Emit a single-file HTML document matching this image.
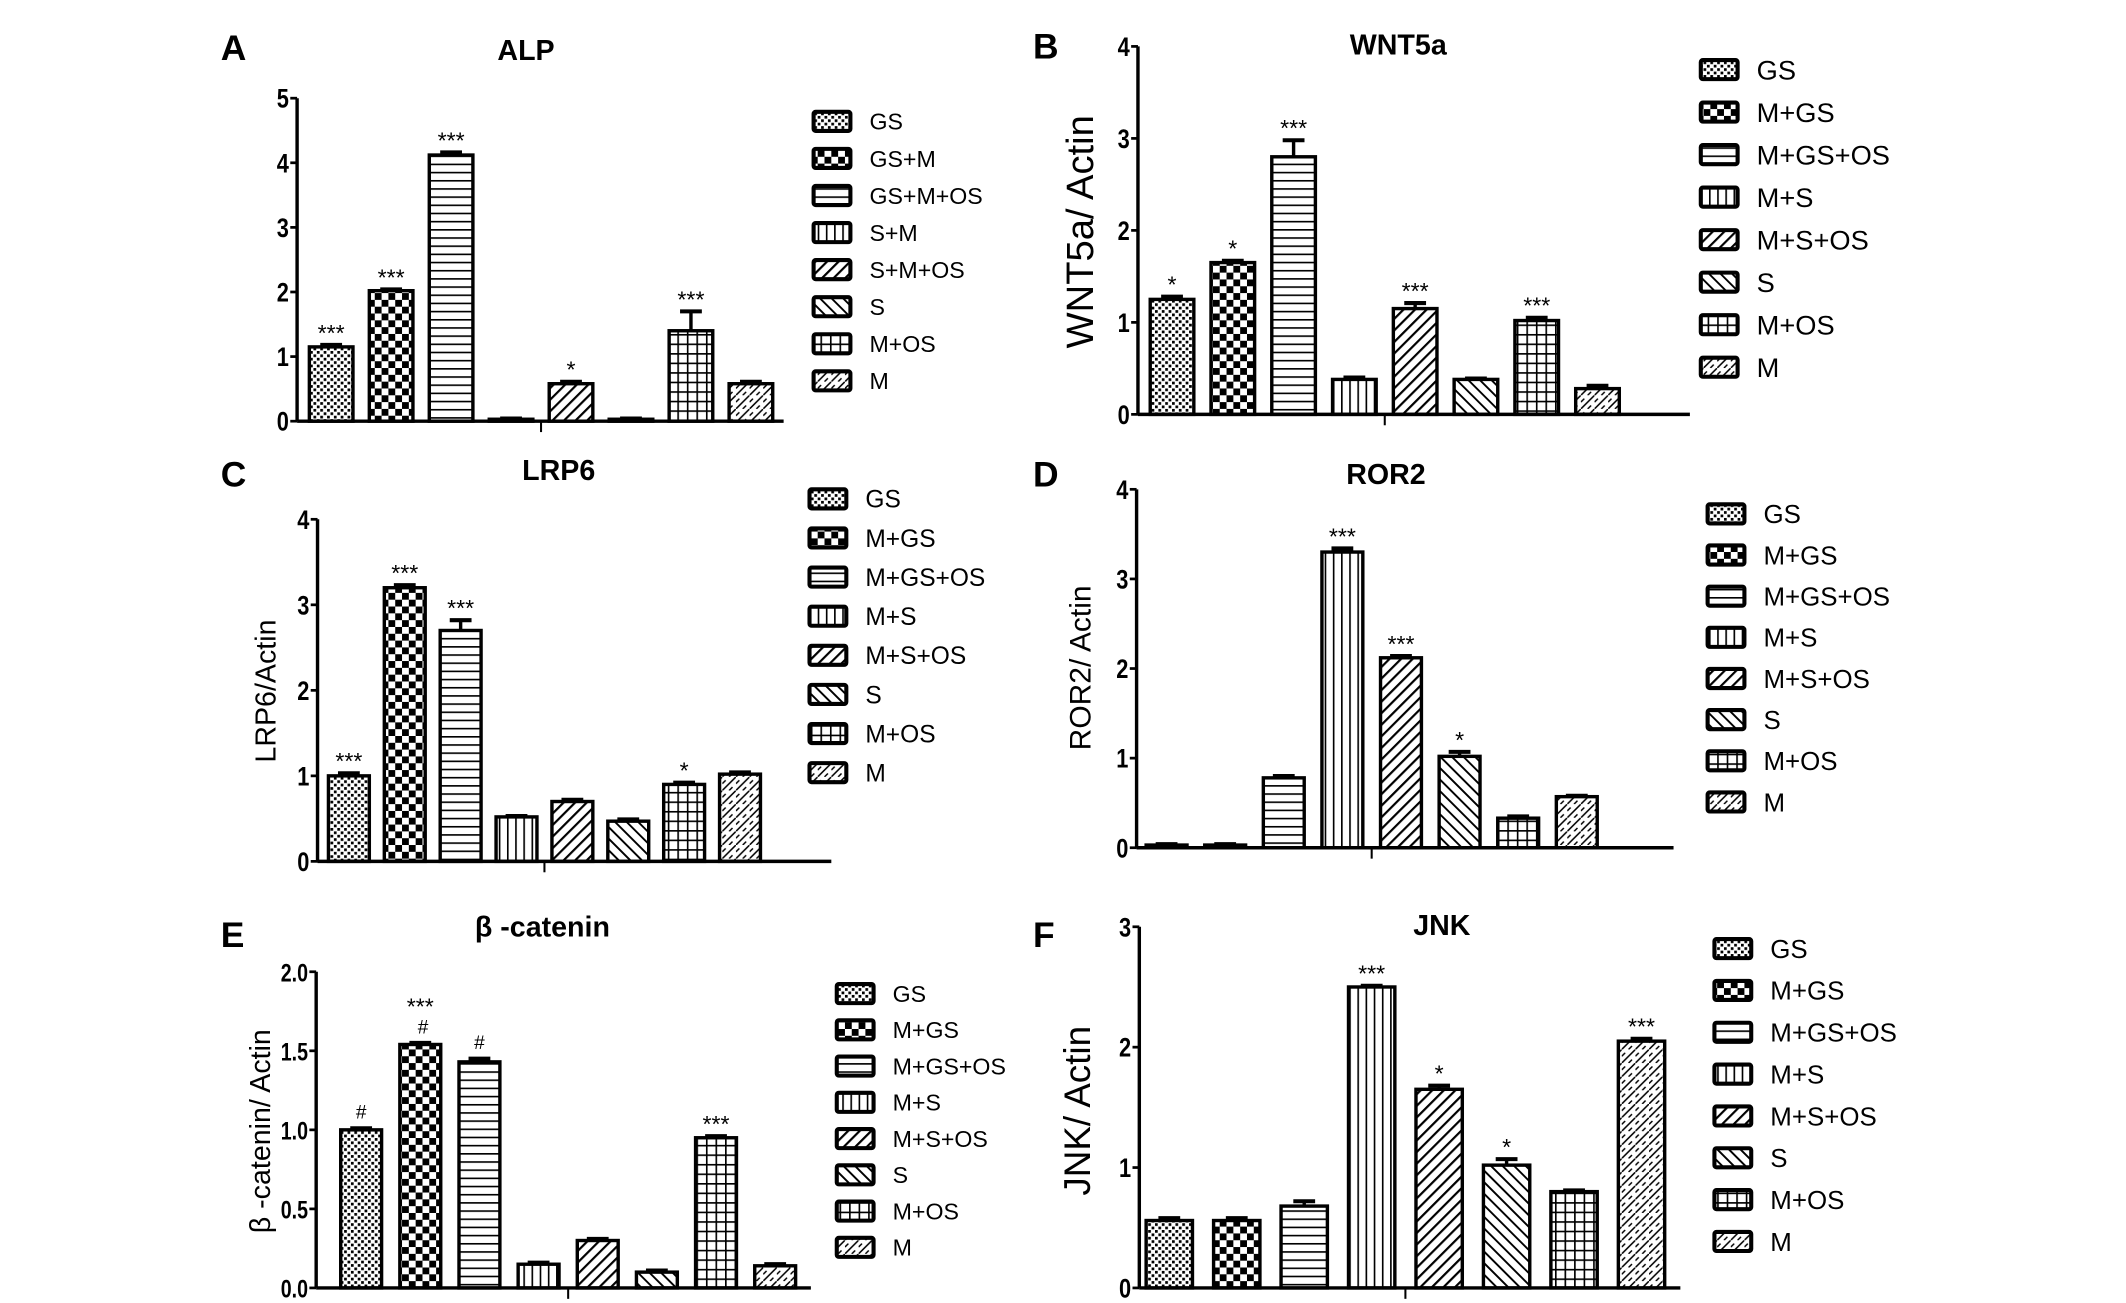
<!DOCTYPE html>
<html><head><meta charset="utf-8"><style>
html,body{margin:0;padding:0;background:#fff;}
svg{display:block;}
text{font-family:"Liberation Sans",sans-serif;fill:#000;}
</style></head><body>
<svg id="fig" width="2126" height="1303" viewBox="0 0 1560 956" xmlns="http://www.w3.org/2000/svg">
<defs>
<pattern id="p0" width="5" height="5" patternUnits="userSpaceOnUse"><rect width="5" height="5" fill="#fff"/><rect width="2" height="2" fill="#000"/><rect x="2.5" y="2.5" width="2" height="2" fill="#000"/></pattern>
<pattern id="p1" width="10" height="10" patternUnits="userSpaceOnUse"><rect width="10" height="10" fill="#fff"/><rect width="5" height="5" fill="#000"/><rect x="5" y="5" width="5" height="5" fill="#000"/></pattern>
<pattern id="p2" width="6" height="6" patternUnits="userSpaceOnUse"><rect width="6" height="6" fill="#fff"/><rect y="0" width="6" height="1.2" fill="#000"/></pattern>
<pattern id="p3" width="6" height="6" patternUnits="userSpaceOnUse"><rect width="6" height="6" fill="#fff"/><rect x="0" width="1.2" height="6" fill="#000"/></pattern>
<pattern id="p4" width="6" height="6" patternUnits="userSpaceOnUse" patternTransform="rotate(45)"><rect width="6" height="6" fill="#fff"/><rect width="1.6" height="6" fill="#000"/></pattern>
<pattern id="p5" width="6" height="6" patternUnits="userSpaceOnUse" patternTransform="rotate(-45)"><rect width="6" height="6" fill="#fff"/><rect width="1.4" height="6" fill="#000"/></pattern>
<pattern id="p6" width="7" height="7" patternUnits="userSpaceOnUse"><rect width="7" height="7" fill="#fff"/><rect width="7" height="1.2" fill="#000"/><rect width="1.2" height="7" fill="#000"/></pattern>
<pattern id="p7" width="10" height="10" patternUnits="userSpaceOnUse"><rect width="10" height="10" fill="#fff"/><path d="M0 10 L10 0 M0 5 L2.5 2.5 M5 10 L7.5 7.5" stroke="#000" stroke-width="1.1" fill="none"/></pattern>
</defs>
</svg>
<script>
const svgNS="http://www.w3.org/2000/svg";
const svg=document.getElementById('fig');
// ----- data -----
const legendA=["GS","GS+M","GS+M+OS","S+M","S+M+OS","S","M+OS","M"];
const legendB=["GS","M+GS","M+GS+OS","M+S","M+S+OS","S","M+OS","M"];
const alpValues=[1.15,2.02,4.12,0.03,0.58,0.03,1.4,0.58];
const alpErrors=[0.03,0.02,0.04,0.01,0.03,0.01,0.3,0.03];
const alpMarks=["***","***","***","","*","","***",""];
const wntValues=[1.25,1.65,2.8,0.38,1.15,0.38,1.02,0.28];
const wntErrors=[0.03,0.02,0.18,0.02,0.06,0.01,0.03,0.03];
const wntMarks=["*","*","***","","***","","***",""];
const lrpValues=[1.0,3.2,2.7,0.52,0.7,0.47,0.9,1.02];
const lrpErrors=[0.03,0.03,0.12,0.01,0.02,0.02,0.02,0.02];
const lrpMarks=["***","***","***","","","","*",""];
const rorValues=[0.03,0.03,0.78,3.3,2.12,1.02,0.33,0.57];
const rorErrors=[0.01,0.01,0.02,0.04,0.02,0.05,0.02,0.01];
const rorMarks=["","","","***","***","*","",""];
const catValues=[1.0,1.54,1.43,0.15,0.3,0.1,0.95,0.14];
const catErrors=[0.01,0.01,0.02,0.01,0.01,0.01,0.01,0.01];
const catMarks=["#","***\n#","#","","","","***",""];
const jnkValues=[0.56,0.56,0.68,2.5,1.65,1.02,0.8,2.05];
const jnkErrors=[0.02,0.02,0.04,0.01,0.03,0.05,0.01,0.02];
const jnkMarks=["","","","***","*","*","","***"];
const ticks4=["0","1","2","3","4"], ticks5=["0","1","2","3","4","5"], ticks3=["0","1","2","3"];
const ticksCat=["0.0","0.5","1.0","1.5","2.0"];

function el(tag,attrs,parent){const e=document.createElementNS(svgNS,tag);for(const k in attrs)e.setAttribute(k,attrs[k]);(parent||svg).appendChild(e);return e;}

const panels=[
 {id:"alp",letter:"A",lx:162,ly:44,title:"ALP",tx:386,ty:44,ax:218,top:72,zero:309,right:575,max:5,ticks:ticks5,c0:243,pitch:44,bw:32,vals:alpValues,errs:alpErrors,marks:alpMarks,ylabel:"",legend:legendA,lgx:597,lgy:89,lgp:27.2,lfs:17,tfs:20},
 {id:"wnt5a",letter:"B",lx:758,ly:43,title:"WNT5a",tx:1026,ty:40,ax:835,top:34,zero:304,right:1240,max:4,ticks:ticks4,c0:860,pitch:44.6,bw:32,vals:wntValues,errs:wntErrors,marks:wntMarks,ylabel:"WNT5a/ Actin",ylx:802,yly:170,yfs:28,legend:legendB,lgx:1248,lgy:51,lgp:31.2,lfs:20,tfs:20},
 {id:"lrp6",letter:"C",lx:162,ly:357,title:"LRP6",tx:410,ty:352,ax:233,top:381,zero:632,right:610,max:4,ticks:ticks4,c0:256,pitch:41,bw:30,vals:lrpValues,errs:lrpErrors,marks:lrpMarks,ylabel:"LRP6/Actin",ylx:202,yly:507,yfs:21,legend:legendB,lgx:594,lgy:366,lgp:28.7,lfs:18,tfs:20},
 {id:"ror2",letter:"D",lx:758,ly:357,title:"ROR2",tx:1017,ty:355,ax:834,top:359,zero:622,right:1228,max:4,ticks:ticks4,c0:856,pitch:43,bw:30,vals:rorValues,errs:rorErrors,marks:rorMarks,ylabel:"ROR2/ Actin",ylx:800,yly:490,yfs:22,legend:legendB,lgx:1253,lgy:377,lgp:30.2,lfs:19,tfs:20},
 {id:"beta-catenin",letter:"E",lx:162,ly:695,title:"β -catenin",tx:398,ty:687,ax:232,top:713,zero:945,right:595,max:2,ticks:ticksCat,c0:265,pitch:43.4,bw:30,vals:catValues,errs:catErrors,marks:catMarks,ylabel:"β -catenin/ Actin",ylx:198,yly:830,yfs:21,legend:legendB,lgx:614,lgy:729,lgp:26.6,lfs:17,tfs:18},
 {id:"jnk",letter:"F",lx:758,ly:695,title:"JNK",tx:1058,ty:686,ax:836,top:680,zero:945,right:1233,max:3,ticks:ticks3,c0:858,pitch:49.5,bw:34,vals:jnkValues,errs:jnkErrors,marks:jnkMarks,ylabel:"JNK/ Actin",ylx:800,yly:815,yfs:27,legend:legendB,lgx:1258,lgy:696,lgp:30.7,lfs:19,tfs:20}
];

panels.forEach(p=>{
 const g=el('g',{});
 
 
 const y=v=>p.zero-(v/p.max)*(p.zero-p.top);
 const L=el('text',{x:p.lx,y:p.ly,'font-family':'Liberation Serif, serif','font-weight':'bold','font-size':26},g);L.textContent=p.letter;
 
 const T=el('text',{x:p.tx,y:p.ty,'text-anchor':'middle','font-weight':'bold','font-size':21},g);T.textContent=p.title;
 
 if(p.ylabel){const Y=el('text',{x:p.ylx,y:p.yly,'text-anchor':'middle','font-size':p.yfs,transform:`rotate(-90 ${p.ylx} ${p.yly})`},g);Y.textContent=p.ylabel;
  }
 // bars
 p.vals.forEach((v,i)=>{
  const cx=p.c0+i*p.pitch, yt=y(v);
  const r=el('rect',{x:cx-p.bw/2,y:yt,width:p.bw,height:p.zero-yt,fill:`url(#p${i})`,stroke:'#000','stroke-width':2.5},g);
  
  
  const ye=y(v+p.errs[i]);
  el('line',{x1:cx,x2:cx,y1:yt,y2:ye,stroke:'#000','stroke-width':2.5},g);
  el('line',{x1:cx-8,x2:cx+8,y1:ye,y2:ye,stroke:'#000','stroke-width':3},g);
  if(p.marks[i]){
   const parts=p.marks[i].split('\n');
   parts.forEach((s,k)=>{
    const off=(parts.length-1-k)*18;
    const isHash=s==='#';
    const t=el('text',{x:cx+(isHash&&parts.length>1?2:0),y:ye-(isHash?7:3)-off,'text-anchor':'middle','font-size':isHash?14:17},g);t.textContent=s;
    
   });
  }
 });
 // axes
 const ya=el('line',{x1:p.ax,x2:p.ax,y1:p.top,y2:p.zero,stroke:'#000','stroke-width':2.5},g);
 
 const xa=el('line',{x1:p.ax,x2:p.right,y1:p.zero,y2:p.zero,stroke:'#000','stroke-width':2.5},g);
 
 const mid=p.c0+3.5*p.pitch;
 el('line',{x1:mid,x2:mid,y1:p.zero,y2:p.zero+8,stroke:'#000','stroke-width':1.5},g);
 p.ticks.forEach((s,k)=>{
  const v=p.max*k/(p.ticks.length-1), ty=y(v);
  el('line',{x1:p.ax-5,x2:p.ax,y1:ty,y2:ty,stroke:'#000','stroke-width':2},g);
  const ax=p.ax-6;
  const t=el('text',{x:ax,y:ty+7,'text-anchor':'end','font-weight':'bold','font-size':p.tfs,transform:`translate(${ax} 0) scale(0.8 1) translate(${-ax} 0)`},g);t.textContent=s;
  
 });
 // legend
 p.legend.forEach((s,i)=>{
  const ly=p.lgy+i*p.lgp;
  const lg=el('g',{},g);
  
  el('rect',{x:p.lgx,y:ly-7,width:27,height:14,fill:`url(#p${i})`,stroke:'#000','stroke-width':3,rx:1.5},lg);
  const t=el('text',{x:p.lgx+41,y:ly+p.lfs*0.36,'font-size':p.lfs},lg);t.textContent=s;
 });
});
</script>
</body></html>
